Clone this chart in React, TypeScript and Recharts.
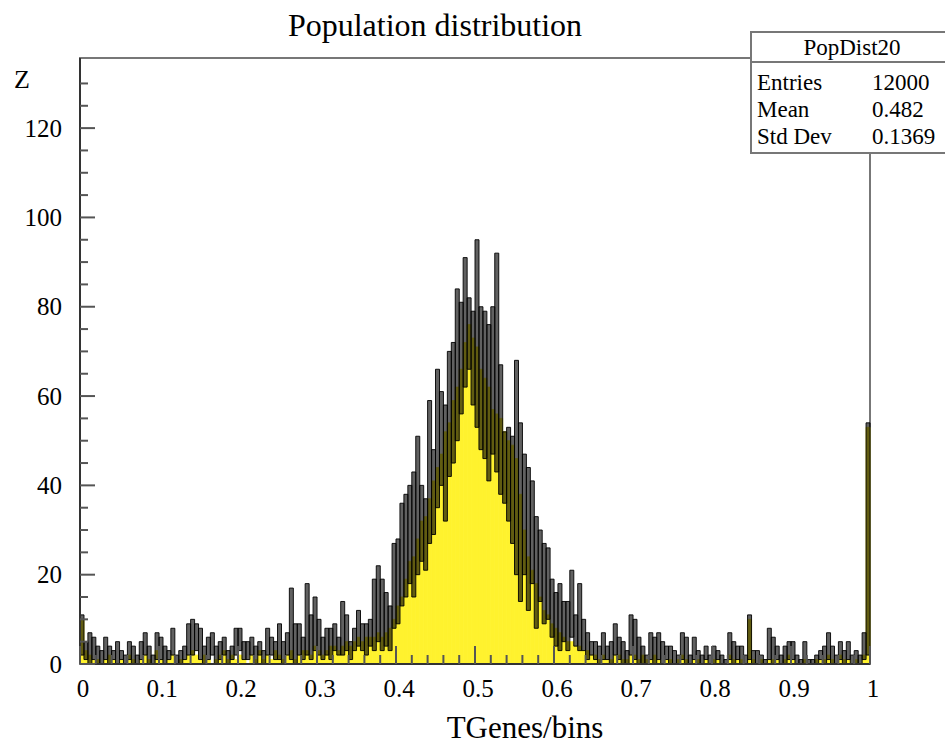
import { ComposedChart, Bar, XAxis, YAxis, ReferenceArea } from "recharts";

// 200 bins over [0, 1]
// yellow histogram content per bin
const COUNTS = [
  10, 3, 2, 1, 1, 0, 1, 2, 1, 0,
  1, 0, 2, 1, 0, 1, 2, 1, 0, 3,
  1, 0, 1, 2, 0, 1, 1, 2, 3, 2,
  1, 2, 1, 0, 1, 2, 3, 1, 2, 1,
  2, 1, 0, 2, 1, 3, 1, 2, 1, 3,
  2, 1, 2, 3, 1, 2, 3, 3, 2, 4,
  3, 2, 3, 4, 4, 3, 4, 5, 4, 5,
  6, 5, 6, 6, 6, 7, 6, 7, 8, 10,
  13, 15, 19, 23, 24, 28, 32, 33, 37, 41,
  44, 47, 52, 54, 59, 62, 66, 72, 76, 73,
  71, 66, 64, 62, 57, 56, 55, 52, 50, 49,
  46, 38, 30, 24, 21, 18, 15, 12, 11, 9,
  8, 7, 6, 5, 5, 4, 4, 3, 3, 2,
  2, 1, 2, 1, 1, 2, 2, 1, 1, 2,
  2, 1, 2, 1, 1, 2, 1, 0, 1, 1,
  0, 1, 2, 1, 0, 1, 1, 0, 1, 0,
  1, 1, 0, 0, 2, 1, 1, 1, 0, 10,
  1, 0, 1, 0, 1, 1, 1, 0, 1, 2,
  1, 0, 0, 1, 0, 0, 1, 1, 1, 2,
  1, 0, 2, 1, 1, 0, 1, 0, 2, 53,
];

// dark spread boxes: lower and upper edge per bin
const LO = [
  2, 1, 0, 1, 0, 0, 1, 0, 1, 0,
  1, 0, 1, 0, 0, 1, 2, 0, 0, 1,
  1, 0, 1, 2, 0, 0, 1, 2, 2, 3,
  1, 0, 1, 2, 0, 1, 2, 0, 1, 2,
  3, 1, 1, 2, 0, 2, 0, 2, 2, 1,
  1, 0, 2, 1, 0, 2, 1, 2, 1, 3,
  2, 1, 2, 1, 3, 2, 2, 3, 1, 3,
  4, 3, 2, 4, 3, 5, 3, 4, 3, 8,
  9, 13, 15, 18, 15, 20, 23, 21, 27, 29,
  35, 40, 32, 42, 45, 50, 56, 62, 66, 58,
  53, 48, 46, 41, 47, 43, 38, 36, 32, 27,
  20, 14, 20, 12, 18, 8, 14, 9, 10, 6,
  4, 3, 5, 3, 6, 4, 3, 3, 1, 2,
  1, 0, 1, 1, 0, 2, 1, 0, 0, 2,
  1, 0, 0, 0, 1, 0, 1, 0, 1, 0,
  0, 0, 1, 0, 0, 1, 0, 0, 1, 0,
  0, 1, 0, 0, 1, 0, 1, 0, 0, 1,
  0, 0, 0, 0, 1, 0, 1, 0, 0, 1,
  1, 0, 0, 0, 0, 0, 0, 1, 0, 1,
  0, 0, 1, 0, 1, 0, 0, 0, 1, 2,
];

const HI = [
  11, 5, 7, 6, 4, 3, 6, 4, 3, 5,
  3, 2, 5, 4, 2, 5, 7, 4, 2, 7,
  6, 4, 3, 8, 2, 3, 4, 9, 10, 9,
  8, 4, 6, 7, 4, 5, 6, 3, 4, 8,
  8, 5, 5, 6, 4, 5, 3, 8, 6, 5,
  9, 5, 7, 17, 9, 9, 6, 18, 11, 15,
  10, 6, 8, 8, 9, 6, 14, 11, 5, 8,
  12, 9, 9, 10, 19, 22, 19, 16, 13, 27,
  28, 36, 38, 40, 43, 51, 40, 37, 59, 48,
  66, 61, 58, 70, 72, 84, 81, 91, 82, 79,
  95, 80, 79, 76, 80, 92, 67, 52, 53, 51,
  68, 54, 47, 44, 41, 33, 30, 27, 26, 19,
  16, 18, 14, 14, 21, 11, 18, 10, 7, 5,
  5, 4, 7, 4, 5, 9, 6, 5, 3, 11,
  10, 6, 4, 2, 7, 6, 7, 5, 4, 4,
  3, 2, 7, 6, 2, 6, 3, 2, 4, 2,
  4, 3, 2, 1, 7, 5, 4, 4, 2, 11,
  3, 3, 2, 1, 8, 6, 4, 2, 4, 5,
  5, 2, 1, 5, 1, 1, 2, 3, 4, 7,
  4, 2, 5, 3, 5, 2, 3, 2, 7, 54,
];

const BIN_WIDTH = 0.005;

const X_TICKS = [
  0, 0.02, 0.04, 0.06, 0.08, 0.1, 0.12, 0.14, 0.16, 0.18,
  0.2, 0.22, 0.24, 0.26, 0.28, 0.3, 0.32, 0.34, 0.36, 0.38,
  0.4, 0.42, 0.44, 0.46, 0.48, 0.5, 0.52, 0.54, 0.56, 0.58,
  0.6, 0.62, 0.64, 0.66, 0.68, 0.7, 0.72, 0.74, 0.76, 0.78,
  0.8, 0.82, 0.84, 0.86, 0.88, 0.9, 0.92, 0.94, 0.96, 0.98, 1,
];
const Y_TICKS = [0, 5, 10, 15, 20, 25, 30, 35, 40, 45, 50, 55, 60, 65, 70, 75, 80, 85, 90, 95, 100, 105, 110, 115, 120, 125, 130];
const Y_MAX = 135.7;

const STATS = [
  { label: "Entries", value: "12000" },
  { label: "Mean", value: "0.482" },
  { label: "Std Dev", value: "0.1369" },
];

const FONT = '"Liberation Serif", "Times New Roman", serif';
const YELLOW = "#fff22e";

const renderXTick = (props: any) => {
  const { x, y, payload } = props;
  const v = payload.value as number;
  const major = Math.round(v * 100) % 10 === 0;
  return (
    <g>
      <line x1={x} y1={y} x2={x} y2={y - (major ? 18 : 9)} stroke="#555" strokeWidth={2} />
      {major && (
        <text x={x + 3} y={y + 33} textAnchor="middle" fontSize={25} fontFamily={FONT} fill="#000">
          {String(v)}
        </text>
      )}
    </g>
  );
};

const renderYTick = (props: any) => {
  const { x, y, payload } = props;
  const v = payload.value as number;
  const major = v % 20 === 0;
  return (
    <g>
      <line x1={x} y1={y} x2={x + (major ? 15 : 8)} y2={y} stroke="#555" strokeWidth={2} />
      {major && (
        <text x={x - 18} y={y} dy="0.35em" textAnchor="end" fontSize={25} fontFamily={FONT} fill="#000">
          {v}
        </text>
      )}
    </g>
  );
};

export default function App() {
  const data = COUNTS.map((c, i) => ({
    bin: i,
    x: (i + 0.5) * BIN_WIDTH,
    count: c,
    spread: [LO[i], HI[i]],
  }));

  return (
    <div style={{ position: "absolute", left: 0, top: 0, width: 945, height: 746, overflow: "hidden", background: "#fff" }}>
      <ComposedChart
        width={945}
        height={746}
        data={data}
        margin={{ top: 58, right: 75, bottom: 52, left: 40 }}
        barCategoryGap={0}
        barGap={0}
      >
        <XAxis xAxisId="yellow" dataKey="bin" orientation="top" height={0} hide />
        <XAxis xAxisId="dark" dataKey="bin" orientation="top" height={0} hide />
        <XAxis
          xAxisId="num"
          dataKey="x"
          type="number"
          domain={[0, 1]}
          ticks={X_TICKS}
          interval={0}
          height={30}
          tickSize={0}
          tickMargin={0}
          tickLine={false}
          axisLine={{ stroke: "#333", strokeWidth: 2 }}
          tick={renderXTick}
          allowDataOverflow
        />
        <YAxis
          type="number"
          domain={[0, Y_MAX]}
          ticks={Y_TICKS}
          interval={0}
          width={40}
          tickSize={0}
          tickMargin={0}
          tickLine={false}
          axisLine={{ stroke: "#333", strokeWidth: 2 }}
          tick={renderYTick}
          allowDataOverflow
        />
        <ReferenceArea xAxisId="num" x1={0} x2={1} y1={0} y2={Y_MAX} fill="none" stroke="#777" strokeWidth={2} />
        <Bar xAxisId="yellow" dataKey="count" fill={YELLOW} stroke={YELLOW} strokeWidth={0.8} isAnimationActive={false} />
        <Bar
          xAxisId="dark"
          dataKey="spread"
          fill="rgba(0,0,0,0.62)"
          stroke="rgba(0,0,0,0.9)"
          strokeWidth={1}
          isAnimationActive={false}
        />
      </ComposedChart>

      <svg width={945} height={746} style={{ position: "absolute", left: 0, top: 0, pointerEvents: "none" }}>
        <text x={435} y={36} textAnchor="middle" fontSize={32} fontFamily={FONT}>
          Population distribution
        </text>
        <text x={14} y={88} fontSize={26} fontFamily={FONT}>
          Z
        </text>
        <text x={525} y={738} textAnchor="middle" fontSize={31} fontFamily={FONT}>
          TGenes/bins
        </text>

        <rect x={751} y={32} width={200} height={121} fill="#fff" stroke="#777" strokeWidth={2} />
        <line x1={751} y1={62} x2={945} y2={62} stroke="#777" strokeWidth={2} />
        <text x={852} y={55} textAnchor="middle" fontSize={23} fontFamily={FONT}>
          PopDist20
        </text>
        {STATS.map((s, i) => (
          <g key={s.label}>
            <text x={757} y={90 + i * 27} fontSize={23} fontFamily={FONT}>
              {s.label}
            </text>
            <text x={872} y={90 + i * 27} fontSize={23} fontFamily={FONT}>
              {s.value}
            </text>
          </g>
        ))}
      </svg>
    </div>
  );
}
